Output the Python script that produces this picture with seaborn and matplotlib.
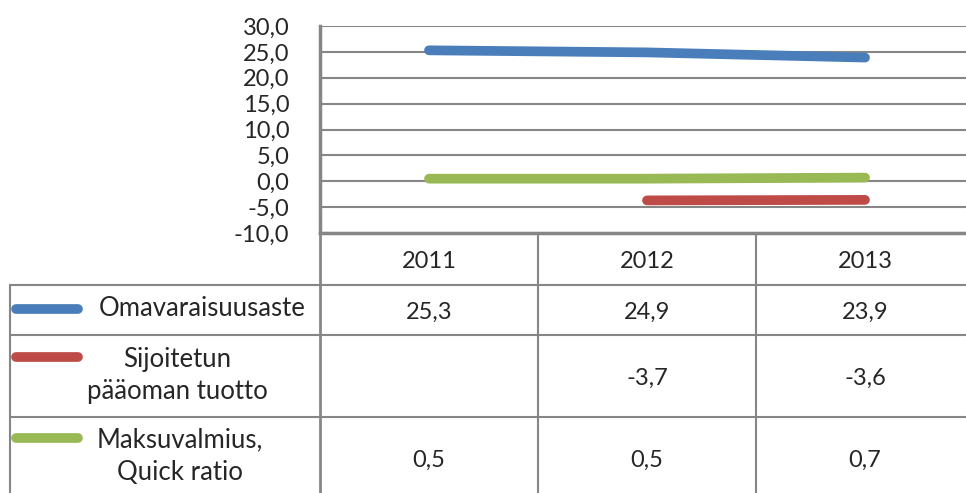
import numpy as np
import pandas as pd
import matplotlib
matplotlib.use("Agg")
import matplotlib.pyplot as plt
import seaborn as sns

sns.set_style("white")
plt.rcParams['font.family'] = ['Lato', 'DejaVu Sans']

# data
years = ["2011", "2012", "2013"]
series_names = ["Omavaraisuusaste", "Sijoitetun\npääoman tuotto", "Maksuvalmius,\nQuick ratio"]
omavaraisuus = [25.3, 24.9, 23.9]
sijoitettu = [np.nan, -3.7, -3.6]
maksuvalmius = [0.5, 0.5, 0.7]
colors = ["#4A7EBB", "#BE4B48", "#98B954"]

def fi(v):
    return f"{v:.1f}".replace(".", ",")

values = [omavaraisuus, sijoitettu, maksuvalmius]
rows = []
for name, vals in zip(series_names, values):
    for i, v in enumerate(vals):
        rows.append({"x": i, "value": v, "series": name})
df = pd.DataFrame(rows)

W, H = 966, 493
fig = plt.figure(figsize=(W / 100, H / 100), dpi=100)

# layout in pixels
left, top, bottom = 320, 26, 233
col_w = 218
row_lines = [285, 335, 417]

ax = fig.add_axes([left / W, 1 - bottom / H, (W - left) / W, (bottom - top) / H])
sns.lineplot(data=df.dropna(), x="x", y="value", hue="series", palette=colors,
             hue_order=series_names, linewidth=7, legend=False, ax=ax,
             solid_capstyle="round")
ax.set_xlim(-0.5, -0.5 + (W - left) / col_w)
ax.set_ylim(-10, 30)
ax.set_yticks(np.arange(-10, 31, 5))
ax.set_yticklabels([fi(v) for v in np.arange(-10, 31, 5)], fontsize=17)
ax.set_xticks([])
ax.set_xlabel("")
ax.set_ylabel("")
ax.tick_params(axis="y", length=0, pad=22)
ax.yaxis.grid(True, color="#868686", linewidth=1.5)
ax.set_axisbelow(True)
for s in ["top", "right"]:
    ax.spines[s].set_visible(False)
for s in ["left", "bottom"]:
    ax.spines[s].set_color("#868686")
    ax.spines[s].set_linewidth(2.5)

# data table
tab = fig.add_axes([0, 0, 1, 1], zorder=-1)
tab.set_xlim(0, W)
tab.set_ylim(H, 0)
tab.axis("off")
gc = "#868686"
for y in row_lines:
    tab.plot([10, W], [y, y], color=gc, lw=1.5)
tab.plot([10, 10], [row_lines[0], H], color=gc, lw=1.5)
tab.plot([left, left], [bottom, H], color=gc, lw=2)
for k in (1, 2):
    xk = left + k * col_w
    tab.plot([xk, xk], [bottom, H], color=gc, lw=1.5)

centers = [left + (i + 0.5) * col_w for i in range(len(years))]
for c, yr in zip(centers, years):
    tab.text(c, 262, yr, ha="center", va="center", fontsize=17)

row_mid = [312, 378, 460]
for vals, ym in zip(values, row_mid):
    for c, v in zip(centers, vals):
        if not np.isnan(v):
            tab.text(c, ym, fi(v), ha="center", va="center", fontsize=17)

# legend keys in the table
key_y = [309, 357, 438]
text_x = [202, 177, 180]
text_y = [309, 375, 456]
for name, col, ky, tx, ty in zip(series_names, colors, key_y, text_x, text_y):
    tab.plot([16, 78], [ky, ky], color=col, lw=7, solid_capstyle="round")
    tab.text(tx, ty, name, ha="center", va="center", fontsize=18.5, linespacing=1.35)

fig.savefig("out.png", dpi=100)
